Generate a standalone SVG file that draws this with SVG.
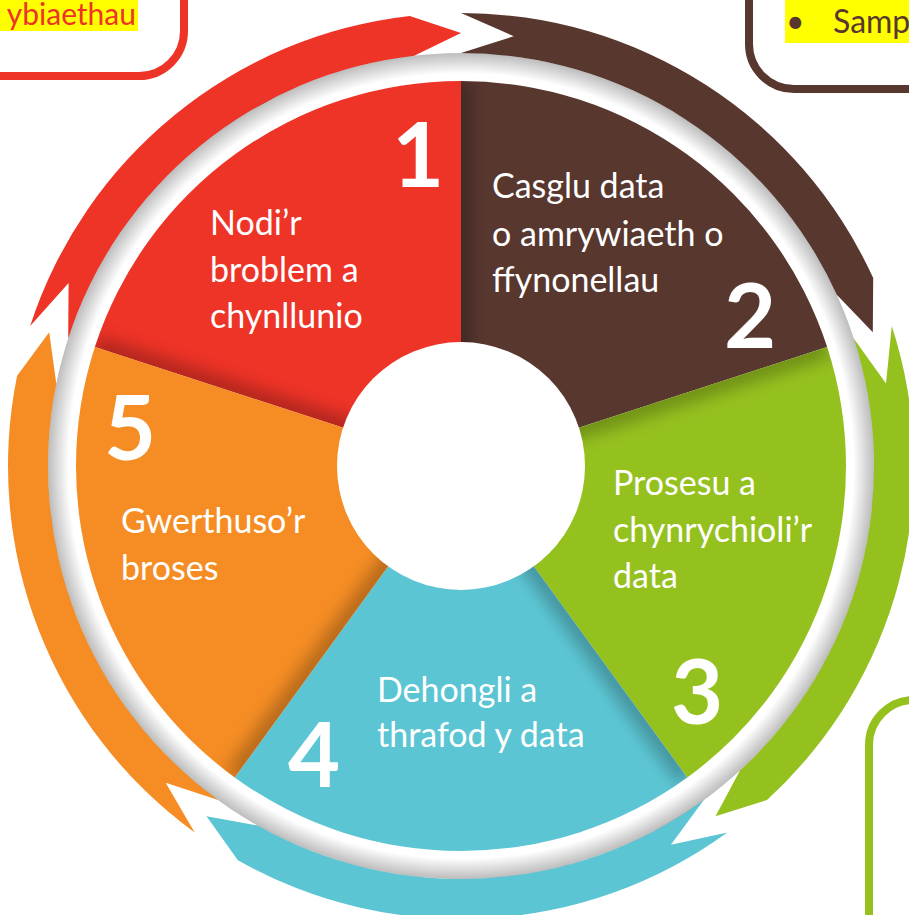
<svg xmlns="http://www.w3.org/2000/svg" width="909" height="915" viewBox="0 0 909 915">
<style>
.lbl{font-family:Lato,"Open Sans","DejaVu Sans",sans-serif;font-size:34px;fill:#ffffff}
.num{font-family:Lato,"Open Sans","DejaVu Sans",sans-serif;font-size:90px;font-weight:bold;fill:#ffffff;text-anchor:middle}
.box{fill:none;stroke-width:8}
.shd{stroke:#000;stroke-opacity:0.26;stroke-width:22;filter:url(#blur)}
</style>
<defs>
<filter id="blur" filterUnits="userSpaceOnUse" x="0" y="0" width="909" height="915"><feGaussianBlur stdDeviation="8"/></filter>
<radialGradient id="ringShade" gradientUnits="userSpaceOnUse" cx="461" cy="466" r="413">
<stop offset="0" stop-color="#000" stop-opacity="0"/>
<stop offset="0.95" stop-color="#000" stop-opacity="0"/>
<stop offset="1" stop-color="#000" stop-opacity="0.26"/>
</radialGradient>
<clipPath id="c1"><path d="M461,466 L94.84,347.03 A385,385 0 0 1 461,81 Z"/></clipPath>
<clipPath id="c2"><path d="M461,466 L461,81 A385,385 0 0 1 827.16,347.03 Z"/></clipPath>
<clipPath id="c3"><path d="M461,466 L827.16,347.03 A385,385 0 0 1 687.30,777.47 Z"/></clipPath>
<clipPath id="c4"><path d="M461,466 L687.30,777.47 A385,385 0 0 1 234.70,777.47 Z"/></clipPath>
<clipPath id="c5"><path d="M461,466 L234.70,777.47 A385,385 0 0 1 94.84,347.03 Z"/></clipPath>
</defs>
<rect width="909" height="915" fill="#ffffff"/>

<g id="box-top-left">
<rect x="-60" y="-60" width="244" height="136" rx="45" class="box" stroke="#EE3327"/>
<rect x="0" y="0" width="138" height="31" fill="#FFFF00"/>
<text x="136" y="25" font-family="Lato,'Open Sans',sans-serif" font-size="30" fill="#EE3327" text-anchor="end">ybiaethau</text>
</g>
<g id="box-top-right">
<rect x="749" y="-60" width="220" height="149" rx="45" class="box" stroke="#58372F"/>
<rect x="785" y="0" width="130" height="43" fill="#FFFF00"/>
<text x="786" y="33" font-family="Lato,'Open Sans',sans-serif" font-size="32" fill="#58372F">•</text>
<text x="833" y="33" font-family="Lato,'Open Sans',sans-serif" font-size="32" fill="#58372F">Samp</text>
</g>
<g id="box-bottom-right">
<rect x="869" y="700" width="120" height="260" rx="45" class="box" stroke="#95C11F"/>
</g>

<g id="connectors">
<path d="M30.2,326.0 A453,453 0 0 1 409.7,15.9 L461,33 L414.2,55.7 A413,413 0 0 0 68.2,338.4 L68.6,283.0 Z" fill="#EE3327"/>
<path d="M461,13 A453,453 0 0 1 873.2,278.1 L872.8,332.2 L836.8,294.7 A413,413 0 0 0 461,53 L513.8,36.2 Z" fill="#58372F"/>
<path d="M891.8,326.0 A453,453 0 0 1 767.0,800.0 L715.5,816.3 L740.0,770.5 A413,413 0 0 0 853.8,338.4 L886.0,383.4 Z" fill="#95C11F"/>
<path d="M727.3,832.5 A453,453 0 0 1 237.9,860.3 L206.5,816.3 L257.6,825.5 A413,413 0 0 0 703.8,800.1 L670.9,844.7 Z" fill="#5CC5D3"/>
<path d="M194.7,832.5 A453,453 0 0 1 17.1,375.7 L49.2,332.2 L56.3,383.7 A413,413 0 0 0 218.2,800.1 L165.7,782.7 Z" fill="#F58D24"/>
</g>

<path id="ring-shade" d="M461,53 A413,413 0 1 1 460.99,53 Z M461,81 A385,385 0 1 0 461.01,81 Z" fill="url(#ringShade)" fill-rule="evenodd"/>

<g id="seg1">
<path d="M461,466 L94.84,347.03 A385,385 0 0 1 461,81 Z" fill="#EE3327"/>
<g clip-path="url(#c1)"><line x1="461" y1="466" x2="94.84" y2="347.03" class="shd"/></g>
<text class="num" x="418" y="187">1</text>
<text class="lbl" x="210" y="235">Nodi’r</text>
<text class="lbl" x="210" y="282">broblem a</text>
<text class="lbl" x="210" y="328">chynllunio</text>
</g>
<g id="seg2">
<path d="M461,466 L461,81 A385,385 0 0 1 827.16,347.03 Z" fill="#58372F"/>
<g clip-path="url(#c2)"><line x1="461" y1="466" x2="461" y2="81" class="shd"/></g>
<text class="num" x="750" y="348">2</text>
<text class="lbl" x="492" y="198">Casglu data</text>
<text class="lbl" x="492" y="246">o amrywiaeth o</text>
<text class="lbl" x="492" y="292">ffynonellau</text>
</g>
<g id="seg3">
<path d="M461,466 L827.16,347.03 A385,385 0 0 1 687.30,777.47 Z" fill="#95C11F"/>
<g clip-path="url(#c3)"><line x1="461" y1="466" x2="827.16" y2="347.03" class="shd"/></g>
<text class="num" x="697" y="724">3</text>
<text class="lbl" x="613" y="495">Prosesu a</text>
<text class="lbl" x="613" y="542">chynrychioli’r</text>
<text class="lbl" x="613" y="588">data</text>
</g>
<g id="seg4">
<path d="M461,466 L687.30,777.47 A385,385 0 0 1 234.70,777.47 Z" fill="#5CC5D3"/>
<g clip-path="url(#c4)"><line x1="461" y1="466" x2="687.30" y2="777.47" class="shd"/></g>
<text class="num" x="314" y="787">4</text>
<text class="lbl" x="377" y="702">Dehongli a</text>
<text class="lbl" x="377" y="747">thrafod y data</text>
</g>
<g id="seg5">
<path d="M461,466 L234.70,777.47 A385,385 0 0 1 94.84,347.03 Z" fill="#F58D24"/>
<g clip-path="url(#c5)"><line x1="461" y1="466" x2="234.70" y2="777.47" class="shd"/></g>
<text class="num" x="130" y="460">5</text>
<text class="lbl" x="121" y="533">Gwerthuso’r</text>
<text class="lbl" x="121" y="580">broses</text>
</g>
<g id="center">
<circle cx="461" cy="466" r="124" fill="#ffffff"/>
</g>
</svg>
